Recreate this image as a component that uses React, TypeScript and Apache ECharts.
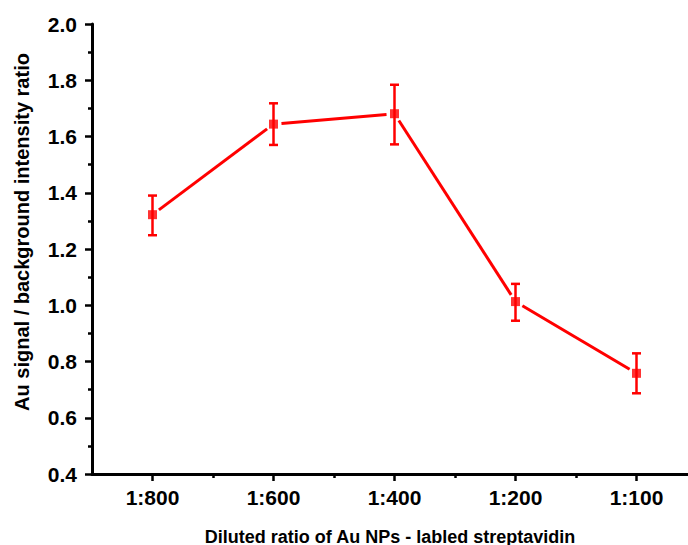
import React, { useEffect, useRef } from "react";
import * as echarts from "echarts";

const categories = ["1:800", "1:600", "1:400", "1:200", "1:100"];
const ratioValues = [1.322, 1.644, 1.681, 1.013, 0.758];
const upperValues = [1.39, 1.718, 1.784, 1.076, 0.829];
const lowerValues = [1.249, 1.57, 1.572, 0.945, 0.687];
const yTicks = { min: 0.4, max: 2.0, interval: 0.2 };

const RED = "#ff0000";
const FONT = "Liberation Sans, Arial, sans-serif";

export default function App() {
  const ref = useRef<HTMLDivElement>(null);
  useEffect(() => {
    if (!ref.current) return;
    const chart = echarts.init(ref.current, null, { renderer: "svg" });
    const xs = categories.map((_, i) => i + 1);
    const points = xs.map((x, i) => [x, ratioValues[i]]);
    const bars = xs.map((x, i) => [x, lowerValues[i], upperValues[i]]);
    const segments = xs.slice(0, -1).map((x, i) => [x, ratioValues[i], xs[i + 1], ratioValues[i + 1]]);
    const xMax = 0.5 + 596 / 121;

    chart.setOption({
      animation: false,
      grid: { left: 92, right: 0, top: 24, bottom: 71 },
      xAxis: [
        {
          type: "value",
          min: 0.5,
          max: xMax,
          axisLine: { show: true, onZero: false, lineStyle: { color: "#000", width: 3 } },
          axisTick: { show: true, customValues: xs, length: 7, lineStyle: { color: "#000", width: 2.5 } },
          axisLabel: {
            show: true,
            customValues: xs,
            formatter: (v: number) => categories[Math.round(v) - 1] ?? "",
            fontSize: 21,
            fontWeight: "bold",
            fontFamily: FONT,
            color: "#000",
            margin: 13,
          },
          splitLine: { show: false },
        },
        {
          type: "value",
          min: 0.5,
          max: xMax,
          position: "bottom",
          axisLine: { show: false },
          axisTick: { show: true, customValues: [1.5, 2.5, 3.5, 4.5], length: 4, lineStyle: { color: "#000", width: 2.5 } },
          axisLabel: { show: false },
          splitLine: { show: false },
        },
      ],
      yAxis: {
        type: "value",
        min: yTicks.min,
        max: yTicks.max,
        interval: yTicks.interval,
        axisLine: { show: true, lineStyle: { color: "#000", width: 3 } },
        axisTick: { show: true, length: 7, lineStyle: { color: "#000", width: 2.5 } },
        minorTick: { show: true, splitNumber: 2, length: 4, lineStyle: { color: "#000", width: 2.5 } },
        axisLabel: {
          fontSize: 21,
          fontWeight: "bold",
          fontFamily: FONT,
          color: "#000",
          margin: 15,
          formatter: (v: number) => v.toFixed(1),
        },
        splitLine: { show: false },
        minorSplitLine: { show: false },
      },
      graphic: [
        {
          type: "text",
          x: 390,
          y: 536.5,
          style: {
            text: "Diluted ratio of Au NPs - labled streptavidin",
            fontSize: 18,
            fontWeight: "bold",
            fontFamily: FONT,
            fill: "#000",
            align: "center",
            verticalAlign: "middle",
          },
        },
        {
          type: "text",
          x: 22,
          y: 232,
          rotation: Math.PI / 2,
          style: {
            text: "Au signal / background intensity ratio",
            fontSize: 20,
            fontWeight: "bold",
            fontFamily: FONT,
            fill: "#000",
            align: "center",
            verticalAlign: "middle",
          },
        },
      ],
      series: [
        {
          type: "custom",
          data: segments,
          encode: { x: [0, 2], y: [1, 3] },
          renderItem: (params: any, api: any) => {
            const p1 = api.coord([api.value(0), api.value(1)]);
            const p2 = api.coord([api.value(2), api.value(3)]);
            const dx = p2[0] - p1[0];
            const dy = p2[1] - p1[1];
            const len = Math.sqrt(dx * dx + dy * dy);
            const g = 8;
            const ux = dx / len;
            const uy = dy / len;
            return {
              type: "line",
              shape: {
                x1: p1[0] + ux * g,
                y1: p1[1] + uy * g,
                x2: p2[0] - ux * g,
                y2: p2[1] - uy * g,
              },
              style: { stroke: RED, lineWidth: 3 },
            };
          },
          z: 2,
        },
        {
          type: "custom",
          data: bars,
          encode: { x: 0, y: [1, 2] },
          renderItem: (params: any, api: any) => {
            const lo = api.coord([api.value(0), api.value(1)]);
            const hi = api.coord([api.value(0), api.value(2)]);
            const hw = 4.5;
            const st = { stroke: RED, lineWidth: 2.5 };
            return {
              type: "group",
              children: [
                { type: "line", shape: { x1: lo[0], y1: lo[1], x2: hi[0], y2: hi[1] }, style: st },
                { type: "line", shape: { x1: lo[0] - hw, y1: lo[1], x2: lo[0] + hw, y2: lo[1] }, style: st },
                { type: "line", shape: { x1: hi[0] - hw, y1: hi[1], x2: hi[0] + hw, y2: hi[1] }, style: st },
              ],
            };
          },
          z: 3,
        },
        {
          type: "scatter",
          data: points,
          symbol: "rect",
          symbolSize: 9,
          itemStyle: { color: RED },
          z: 4,
        },
      ],
    });
    return () => chart.dispose();
  }, []);
  return <div ref={ref} style={{ position: "absolute", left: 0, top: 0, width: 688, height: 545 }} />;
}
